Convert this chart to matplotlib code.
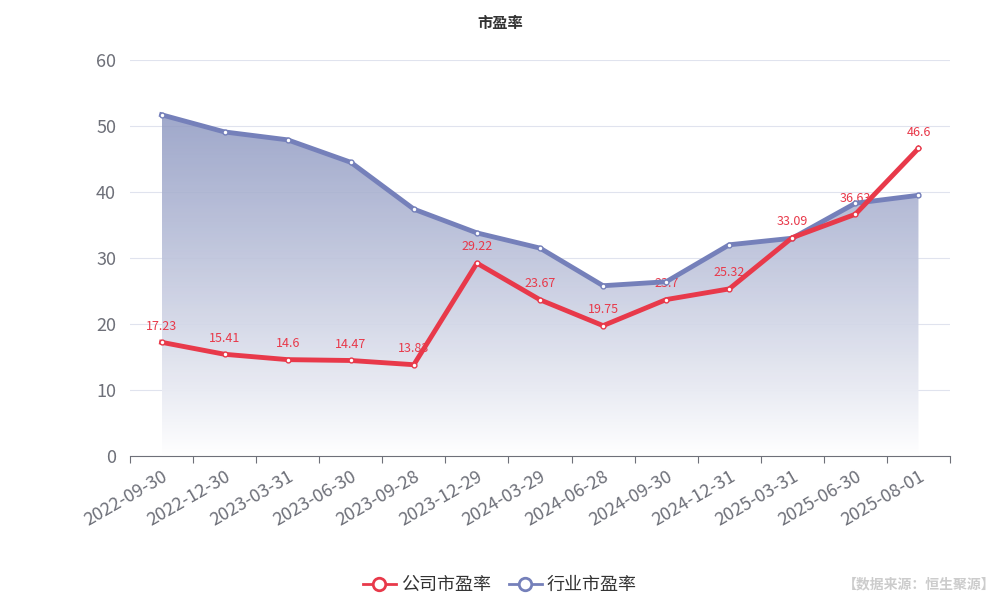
import matplotlib
matplotlib.use("Agg")
import matplotlib.pyplot as plt
import numpy as np
from matplotlib.patches import Polygon

plt.rcParams['font.family'] = ['Noto Sans CJK SC', 'DejaVu Sans']

dates = ["2022-09-30","2022-12-30","2023-03-31","2023-06-30","2023-09-28","2023-12-29",
         "2024-03-29","2024-06-28","2024-09-30","2024-12-31","2025-03-31","2025-06-30","2025-08-01"]
company = [17.23,15.41,14.6,14.47,13.83,29.22,23.67,19.75,23.7,25.32,33.09,36.63,46.6]
industry = [51.7,49.1,47.9,44.5,37.4,33.8,31.5,25.8,26.4,32.0,33.0,38.3,39.5]

red = "#E8394A"
blue = "#7580BA"

fig = plt.figure(figsize=(10, 6), dpi=100)
ax = fig.add_axes([0.13, 0.24, 0.82, 0.66])
x = np.arange(len(dates))
ax.set_xlim(-0.5, len(dates) - 0.5)
ax.set_ylim(0, 60)

# gradient fill
grad = np.linspace(0, 1, 256).reshape(-1, 1)
from matplotlib.colors import LinearSegmentedColormap
cmap = LinearSegmentedColormap.from_list("g", [(1, 1, 1, 1), (0.56, 0.60, 0.76, 0.85)])
im = ax.imshow(grad, extent=[x[0], x[-1], 0, max(industry)], origin="lower",
               aspect="auto", cmap=cmap, zorder=1)
poly = Polygon(list(zip(x, industry)) + [(x[-1], 0), (x[0], 0)], closed=True,
               transform=ax.transData, facecolor="none", edgecolor="none")
ax.add_patch(poly)
im.set_clip_path(poly)

ax.plot(x, industry, color=blue, lw=3.5, zorder=3, marker="o", ms=3.5,
        mfc="white", mec=blue, mew=1)
ax.plot(x, company, color=red, lw=3.5, zorder=4, marker="o", ms=3.5,
        mfc="white", mec=red, mew=1)
for xi, v in zip(x, company):
    ax.annotate(f"{v:g}", (xi, v), xytext=(0, 7), textcoords="offset points",
                ha="center", va="bottom", fontsize=9, color=red, zorder=2)

ax.set_yticks(range(0, 61, 10))
ax.grid(axis="y", color="#E0E3EE", lw=0.8)
ax.set_axisbelow(True)
for s in ["top", "right", "left"]:
    ax.spines[s].set_visible(False)
ax.spines["bottom"].set_color("#6E7079")
ax.tick_params(axis="y", length=0, labelsize=13, colors="#6E7079", pad=10)
ax.set_xticks(np.arange(-0.5, len(dates), 1), minor=False)
ax.set_xticklabels([])
ax.set_xticks(x, minor=True)
ax.set_xticklabels(dates, minor=True, rotation=30, ha="right", rotation_mode="anchor",
                   fontsize=13, color="#6E7079")
ax.tick_params(axis="x", which="major", length=5, color="#6E7079")
ax.tick_params(axis="x", which="minor", length=0, pad=8)

fig.text(0.5, 0.975, "市盈率", ha="center", va="top", fontsize=11, fontweight="bold", color="#333333")

from matplotlib.lines import Line2D
handles = [Line2D([], [], color=red, lw=2, marker="o", ms=9, mfc="white", mec=red, mew=2),
           Line2D([], [], color=blue, lw=2, marker="o", ms=9, mfc="white", mec=blue, mew=2)]
fig.legend(handles, ["公司市盈率", "行业市盈率"], loc="center", bbox_to_anchor=(0.5, 0.025),
           ncol=2, frameon=False, fontsize=13, handlelength=1.8, columnspacing=1.0,
           handletextpad=0.3, labelcolor="#333333")
fig.text(0.995, 0.015, "【数据来源：恒生聚源】", ha="right", va="bottom", fontsize=10,
         color="#CCCCCC", fontweight="bold")

fig.savefig("out.png", dpi=100)
